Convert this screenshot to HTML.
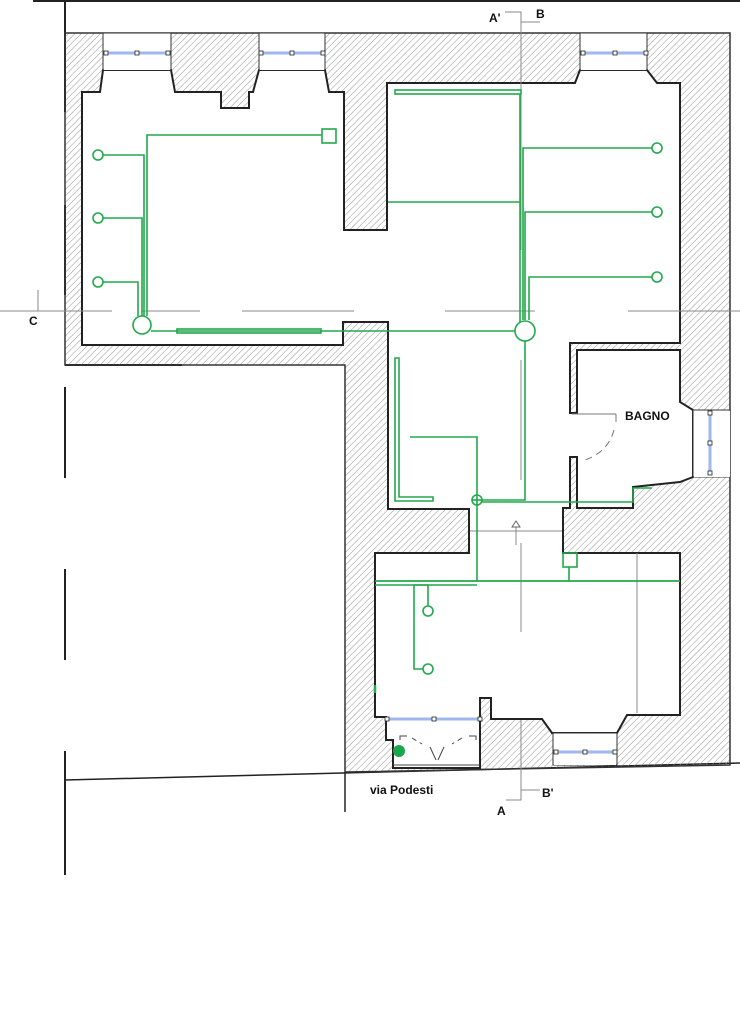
<!DOCTYPE html>
<html><head><meta charset="utf-8"><style>
html,body{margin:0;padding:0;background:#fff;}
svg{display:block;}
text{font-family:"Liberation Sans",sans-serif;font-weight:bold;fill:#111;}
</style></head><body>
<svg width="740" height="1024" viewBox="0 0 740 1024" xmlns="http://www.w3.org/2000/svg">
<defs>
<pattern id="h" width="4.5" height="4.5" patternUnits="userSpaceOnUse" patternTransform="rotate(45)">
<line x1="0" y1="0" x2="0" y2="4.5" stroke="#8a8a8a" stroke-width="0.9"/>
</pattern>
</defs>
<rect width="740" height="1024" fill="#fff"/>
<line x1="33" y1="1" x2="740" y2="1" stroke="#222" stroke-width="2"/>
<g stroke="#222" stroke-width="2">
<line x1="65" y1="0" x2="65" y2="112"/>
<line x1="65" y1="205" x2="65" y2="295"/>
<line x1="65" y1="387" x2="65" y2="478"/>
<line x1="65" y1="569" x2="65" y2="660"/>
<line x1="65" y1="751" x2="65" y2="875"/>
<line x1="65" y1="365" x2="182" y2="365"/>
</g>
<line x1="65" y1="780" x2="740" y2="763" stroke="#222" stroke-width="1.5"/>
<line x1="345" y1="772" x2="345" y2="812" stroke="#222" stroke-width="1.5"/>
<path d="M65,33 L730,33 L730,765 L345,772 L345,365 L65,365 Z" fill="url(#h)" stroke="#333" stroke-width="1.5"/>
<path d="M82,92 L100,92 L103,70 L171,70 L175,92 L221,92 L221,108 L249,108 L249,92 L253,92 L259,70 L325,70 L329,92 L344,92 L344,230 L387,230 L387,83 L575,83 L580,70 L647,70 L657,83 L680,83 L680,343 L570,343 L570,413 L577,413 L577,350 L680,350 L680,402 L693,410 L693,477 L680,482 L633,487 L633,508 L577,508 L577,457 L570,457 L570,508 L563,508 L563,553 L680,553 L680,715 L627,715 L617,733 L552,733 L542,719 L491,719 L491,698 L480,698 L480,768 L393,768 L393,740 L386,740 L386,717 L375,717 L375,553 L469,553 L469,509 L388,509 L388,322 L343,322 L343,345 L82,345 Z" fill="#fff" stroke="#222" stroke-width="2"/>
<g fill="#fff" stroke="#333" stroke-width="1">
<rect x="103" y="33" width="68" height="37"/>
<rect x="259" y="33" width="66" height="37"/>
<rect x="580" y="33" width="67" height="37"/>
<rect x="693" y="410" width="37" height="67"/>
<rect x="553" y="733" width="64" height="32"/>
</g>
<g fill="#fff" stroke="none">
<rect x="104" y="34" width="66" height="36"/>
<rect x="260" y="34" width="64" height="36"/>
<rect x="581" y="34" width="65" height="36"/>
<rect x="694" y="411" width="36" height="66"/>
<rect x="554" y="734" width="62" height="31"/>
</g>
<g stroke="#9fb6ef" stroke-width="3">
<line x1="105" y1="53" x2="169" y2="53"/>
<line x1="260" y1="53" x2="324" y2="53"/>
<line x1="582" y1="53" x2="646" y2="53"/>
<line x1="710" y1="412" x2="710" y2="475"/>
<line x1="555" y1="752" x2="615" y2="752"/>
<line x1="386" y1="719" x2="481" y2="719"/>
</g>
<g fill="#fff" stroke="#222" stroke-width="0.8">
<rect x="104" y="51" width="4" height="4"/><rect x="135" y="51" width="4" height="4"/><rect x="166" y="51" width="4" height="4"/>
<rect x="259" y="51" width="4" height="4"/><rect x="290" y="51" width="4" height="4"/><rect x="321" y="51" width="4" height="4"/>
<rect x="581" y="51" width="4" height="4"/><rect x="613" y="51" width="4" height="4"/><rect x="644" y="51" width="4" height="4"/>
<rect x="708" y="411" width="4" height="4"/><rect x="708" y="441" width="4" height="4"/><rect x="708" y="471" width="4" height="4"/>
<rect x="554" y="750" width="4" height="4"/><rect x="583" y="750" width="4" height="4"/><rect x="613" y="750" width="4" height="4"/>
<rect x="385" y="717" width="4" height="4"/><rect x="432" y="717" width="4" height="4"/><rect x="478" y="717" width="4" height="4"/>
</g>
<g stroke="#444" stroke-width="1" fill="none">
<line x1="393" y1="765" x2="480" y2="765"/>
<polyline points="400,740 400,736 407,736"/>
<polyline points="476,740 476,736 469,736"/>
<path d="M412,738 L422,744" stroke-dasharray="5,4"/>
<path d="M462,738 L452,744" stroke-dasharray="5,4"/>
<path d="M430,747 L436,760" />
<path d="M444,747 L438,760" />
<line x1="572" y1="414" x2="616" y2="414" stroke="#777"/>
<line x1="616" y1="414" x2="616" y2="422" stroke="#777"/>
<path d="M614,430 Q608,452 585,460" stroke="#777" stroke-dasharray="7,5"/>
</g>
<g stroke="#888" stroke-width="1" fill="none">
<line x1="0" y1="311" x2="112" y2="311"/>
<line x1="141" y1="311" x2="200" y2="311"/>
<line x1="242" y1="311" x2="354" y2="311"/>
<line x1="445" y1="311" x2="535" y2="311"/>
<line x1="628" y1="311" x2="740" y2="311"/>
<polyline points="38,290 38,311"/>
<polyline points="505,12 521,12 521,250"/>
<line x1="521" y1="22" x2="540" y2="22"/>
<line x1="521" y1="360" x2="521" y2="480"/>
<line x1="521" y1="543" x2="521" y2="632"/>
<polyline points="521,720 521,800 506,800"/>
<line x1="521" y1="790" x2="540" y2="790"/>
<line x1="470" y1="531" x2="562" y2="531"/>
<line x1="637" y1="553" x2="637" y2="713"/>
<line x1="516" y1="527" x2="516" y2="545"/>
</g>
<path d="M512,527 L516,521 L520,527 Z" fill="#fff" stroke="#666" stroke-width="1"/>
<g stroke="#22a94c" stroke-width="1.6" fill="none">
<circle cx="98" cy="155" r="5"/><circle cx="98" cy="218" r="5"/><circle cx="98" cy="282" r="5"/>
<polyline points="103,155 144,155 144,316"/>
<polyline points="103,218 142,218 142,316"/>
<polyline points="103,282 138,282 138,316"/>
<polyline points="147,316 147,135 322,135"/>
<rect x="322" y="129" width="14" height="14"/>
<circle cx="142" cy="325" r="9"/>
<line x1="151" y1="331" x2="515" y2="331"/>
<rect x="177" y="329" width="144" height="4"/>
<rect x="395" y="90" width="126" height="4"/>
<line x1="520" y1="94" x2="520" y2="322"/>
<line x1="388" y1="202" x2="520" y2="202"/>
<polyline points="523,320 523,148 652,148"/>
<polyline points="525,320 525,212 652,212"/>
<polyline points="529,320 529,277 652,277"/>
<circle cx="657" cy="148" r="5"/><circle cx="657" cy="212" r="5"/><circle cx="657" cy="277" r="5"/>
<circle cx="525" cy="331" r="10"/>
<polyline points="525,341 525,500 482,500"/>
<path d="M395,358 L399,358 L399,497 L433,497 L433,501 L395,501 Z"/>
<polyline points="410,437 477,437 477,581"/>
<circle cx="477" cy="500" r="5"/>
<line x1="472" y1="500" x2="482" y2="500"/>
<polyline points="482,502 633,502 633,488 652,488"/>
<line x1="375" y1="581" x2="680" y2="581" stroke-width="1.8"/>
<line x1="375" y1="585" x2="477" y2="585"/>
<rect x="563" y="553" width="14" height="14"/>
<line x1="569" y1="567" x2="569" y2="581"/>
<polyline points="414,585 414,669 423,669"/>
<polyline points="414,585 428,585 428,606"/>
<circle cx="428" cy="611" r="5"/>
<circle cx="428" cy="669" r="5"/>
<line x1="375" y1="685" x2="375" y2="693" stroke-width="2.5"/>
</g>
<circle cx="399" cy="751" r="6" fill="#1aa64a"/>
<text x="625" y="420" font-size="12" font-weight="normal">BAGNO</text>
<text x="370" y="794" font-size="12">via Podesti</text>
<text x="489" y="22" font-size="12">A'</text>
<text x="536" y="18" font-size="12">B</text>
<text x="29" y="325" font-size="12">C</text>
<text x="497" y="815" font-size="12">A</text>
<text x="542" y="797" font-size="12">B'</text>
</svg>
</body></html>
